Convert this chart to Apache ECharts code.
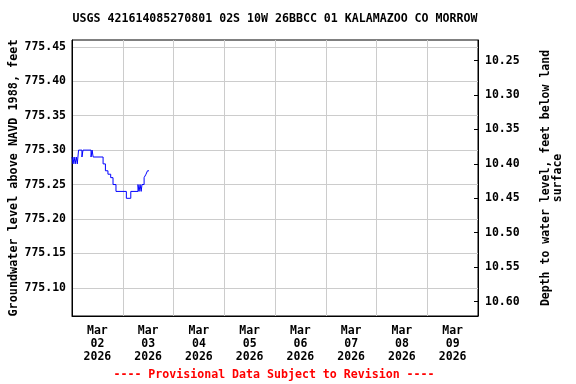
<!DOCTYPE html>
<html><head><meta charset="utf-8">
<script src="https://cdn.jsdelivr.net/npm/echarts@6/dist/echarts.min.js"></script>
<style>html,body{margin:0;padding:0;background:#fff}#c{width:576px;height:384px}</style>
</head><body><div id="c"></div>
<script>
// hours since 2026-03-02 00:00
const hours = [0, 0.5, 1, 1.5, 2, 2.5, 3.1, 4.7, 5.2, 9, 9.5, 10, 14.7, 15.8, 17, 18.3, 19.4, 20.8, 25.7, 27.8, 31.2, 31.7, 32.2, 32.7, 33.1, 34.1, 35, 35.7, 36.4];
const levels = [775.29, 775.28, 775.29, 775.28, 775.29, 775.28, 775.30, 775.29, 775.30, 775.29, 775.30, 775.29, 775.28, 775.27, 775.265, 775.26, 775.25, 775.24, 775.23, 775.24, 775.25, 775.24, 775.25, 775.24, 775.25, 775.26, 775.265, 775.27, 775.27];
const dayLabels = ['Mar\n02\n2026', 'Mar\n03\n2026', 'Mar\n04\n2026', 'Mar\n05\n2026', 'Mar\n06\n2026', 'Mar\n07\n2026', 'Mar\n08\n2026', 'Mar\n09\n2026'];
const leftTicks = [775.10, 775.15, 775.20, 775.25, 775.30, 775.35, 775.40, 775.45];
const rightTicks = [10.25, 10.30, 10.35, 10.40, 10.45, 10.50, 10.55, 10.60];
const landSurface = 785.68;
const yMin = 775.059, yMax = 775.46;

const FONT = 'DejaVu Sans Mono';
const chart = echarts.init(document.getElementById('c'), null, {renderer: 'canvas'});
const data = hours.map((h, i) => [h, levels[i]]);
chart.setOption({
  animation: false,
  textStyle: {fontFamily: FONT},
  grid: {left: 72, right: 98, top: 40, bottom: 68, outerBoundsMode: 'none', containLabel: false, show: true, borderColor: '#000', borderWidth: 1, backgroundColor: 'transparent'},
  graphic: [
    {type: 'text', x: 275, y: 19, style: {text: 'USGS 421614085270801 02S 10W 26BBCC 01 KALAMAZOO CO MORROW', font: 'bold 11.6px "DejaVu Sans Mono"', fill: '#000', align: 'center', verticalAlign: 'middle'}},
    {type: 'text', x: 274, y: 375, style: {text: '---- Provisional Data Subject to Revision ----', font: 'bold 11.6px "DejaVu Sans Mono"', fill: '#ff0000', align: 'center', verticalAlign: 'middle'}}
  ],
  xAxis: [
    {type: 'value', min: 0, max: 192, interval: 12,
      axisLine: {show: true, onZero: false, lineStyle: {color: '#000'}},
      axisTick: {show: false}, splitLine: {show: false},
      axisLabel: {show: true, margin: 9, color: '#000', fontFamily: FONT, fontWeight: 'bold', fontSize: 11.5, lineHeight: 13,
        showMinLabel: true, showMaxLabel: true,
        formatter: v => (v % 24 === 12) ? dayLabels[(v - 12) / 24] : ''}},
    {type: 'value', min: 0, max: 192, interval: 24, position: 'bottom',
      axisLine: {show: false, onZero: false}, axisTick: {show: false}, axisLabel: {show: false},
      splitLine: {show: true, lineStyle: {color: '#cccccc', width: 1}}}
  ],
  yAxis: [
    {type: 'value', min: yMin, max: yMax, position: 'left',
      name: 'Groundwater level above NAVD 1988, feet', nameLocation: 'middle', nameGap: 52, nameRotate: 90, nameMoveOverlap: false,
      nameTextStyle: {color: '#000', fontFamily: FONT, fontWeight: 'bold', fontSize: 11.8},
      axisLine: {show: true, onZero: false, lineStyle: {color: '#000'}},
      axisTick: {show: false, customValues: leftTicks},
      axisLabel: {color: '#000', fontFamily: FONT, fontWeight: 'bold', fontSize: 11.5, margin: 6, customValues: leftTicks, formatter: v => v.toFixed(2)},
      splitLine: {show: true, lineStyle: {color: '#cccccc', width: 1}}},
    {type: 'value', min: landSurface - yMax, max: landSurface - yMin, inverse: true, position: 'right',
      name: 'Depth to water level, feet below land\nsurface', nameLocation: 'middle', nameGap: 62, nameRotate: 90, nameMoveOverlap: false,
      nameTextStyle: {color: '#000', fontFamily: FONT, fontWeight: 'bold', fontSize: 11.5, lineHeight: 12},
      axisLine: {show: true, onZero: false, lineStyle: {color: '#000'}},
      axisTick: {show: true, inside: true, length: 4, lineStyle: {color: '#000'}, customValues: rightTicks},
      axisLabel: {color: '#000', fontFamily: FONT, fontWeight: 'bold', fontSize: 11.5, margin: 7, customValues: rightTicks, formatter: v => v.toFixed(2)},
      splitLine: {show: false}}
  ],
  series: [{
    type: 'line', xAxisIndex: 0, yAxisIndex: 0, data: data, step: 'end', showSymbol: false,
    lineStyle: {color: '#0000ff', width: 1}, itemStyle: {color: '#0000ff'}
  }]
});
</script></body></html>
